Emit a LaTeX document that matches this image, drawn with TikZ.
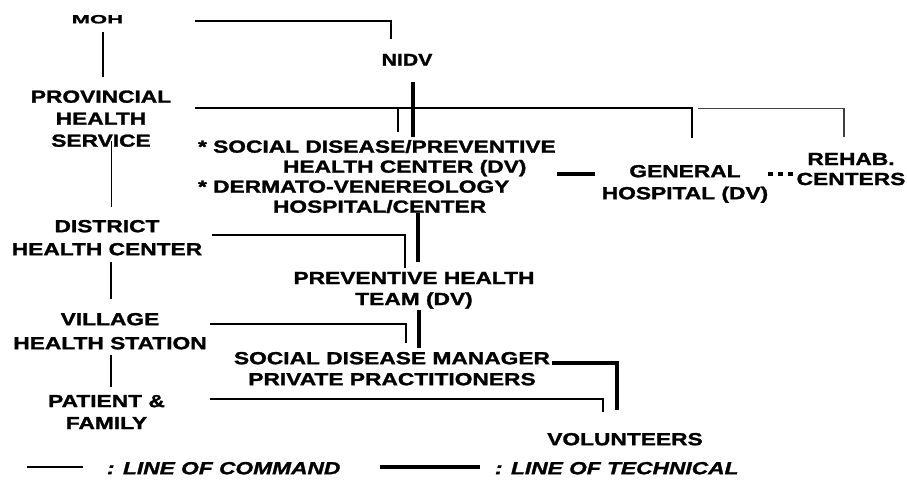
\documentclass[tikz,border=0pt]{standalone}
\usepackage{fontspec}
\setmainfont{Liberation Sans}[FakeStretch=1.3,FakeBold=1.5]
\newfontfamily\mohfont{Liberation Sans}[FakeStretch=1.83,FakeBold=1.5]
\newfontfamily\nidvfont{Liberation Sans}[FakeStretch=1.25,FakeBold=1.5]
\begin{document}
\begin{tikzpicture}[x=1pt,y=-1pt,
  lbl/.style={inner sep=0pt,outer sep=0pt,align=center,anchor=north,
    font=\bfseries\fontsize{17.5}{#1}\selectfont},
  lbl/.default=21.5,
  leg/.style={inner sep=0pt,outer sep=0pt,anchor=north west,
    font=\bfseries\itshape\fontsize{17.5}{21}\selectfont},
  cmd/.style={line width=1.2pt},
  tech/.style={line width=4pt},
  dots/.style={line width=4pt,dash pattern=on 5pt off 5pt}]
\useasboundingbox (0,0) rectangle (907,482);
% nodes
\node[lbl,font=\mohfont\bfseries\fontsize{12}{14}\selectfont] (moh) at (97.4,15) {MOH};
\node[lbl,font=\nidvfont\bfseries\fontsize{17}{19}\selectfont] (nidv) at (407,54) {NIDV};
\node[lbl=22] (prov) at (101,90.5) {PROVINCIAL\\HEALTH\\SERVICE};
\node[lbl=23] (dist) at (107,220) {DISTRICT\\HEALTH CENTER};
\node[lbl=24] (vill) at (110,313) {VILLAGE\\HEALTH STATION};
\node[lbl=22] (pat) at (106.5,395) {PATIENT \&\\FAMILY};
\node[lbl=20,align=left,anchor=north west] (sdc) at (198,140)
  {* SOCIAL DISEASE/PREVENTIVE\\\hspace*{85pt}HEALTH CENTER (DV)\\* DERMATO-VENEREOLOGY\\\hspace*{75pt}HOSPITAL/CENTER};
\node[lbl=22] (gh) at (685,165) {GENERAL\\HOSPITAL (DV)};
\node[lbl=20] (rehab) at (851,153) {REHAB.\\CENTERS};
\node[lbl=21] (pht) at (414,272) {PREVENTIVE HEALTH\\TEAM (DV)};
\node[lbl=21] (sdm) at (392,352) {SOCIAL DISEASE MANAGER\\PRIVATE PRACTITIONERS};
\node[lbl] (vol) at (625,433) {VOLUNTEERS};
\node[leg] (leg1) at (107,462) {: LINE OF COMMAND};
\node[leg] (leg2) at (495,462) {: LINE OF TECHNICAL};
% connector end points
\coordinate (mohR) at (195,21);   \coordinate (nidvL) at (391,39);
\coordinate (mohB) at (103,32);   \coordinate (provT) at (103,77);
\coordinate (provR) at (195,108); \coordinate (ghT) at (692,138);
\coordinate (rehabS) at (698,108.5); \coordinate (rehabT) at (844,137);
\coordinate (provJ) at (398,108); \coordinate (sdcTa) at (398,132);
\coordinate (nidvB) at (413,82);  \coordinate (sdcT) at (413,137);
\coordinate (provB) at (111.7,141); \coordinate (distT) at (111.7,207);
\coordinate (sdcR) at (557,174);  \coordinate (ghL) at (595,174);
\coordinate (ghR) at (768,174);   \coordinate (rehabL) at (793,174);
\coordinate (sdcB) at (418,213);  \coordinate (phtT) at (418,262);
\coordinate (distR) at (212,235); \coordinate (phtTL) at (405,268);
\coordinate (distB) at (111,262); \coordinate (villT) at (111,299);
\coordinate (villR) at (210,324); \coordinate (sdmTL) at (406,343);
\coordinate (phtB) at (419,310);  \coordinate (sdmT) at (419,348);
\coordinate (villB) at (111,355); \coordinate (patT) at (111,387);
\coordinate (patR) at (210,399);  \coordinate (volTL) at (603,412);
\coordinate (sdmR) at (552,363);  \coordinate (volT) at (617,410);
\coordinate (lgA) at (27,467);    \coordinate (lgB) at (83,467);
\coordinate (lgC) at (380,467);   \coordinate (lgD) at (480,467);
% line of command
\draw[cmd] (mohR) -| (nidvL);
\draw[cmd] (mohB) -- (provT);
\draw[cmd] (provR) -| (ghT);
\draw[cmd,black!75] (rehabS) -| (rehabT);
\draw[cmd] (provJ) -- (sdcTa);
\draw[cmd] (provB) -- (distT);
\draw[cmd] (distR) -| (phtTL);
\draw[cmd] (distB) -- (villT);
\draw[cmd] (villR) -| (sdmTL);
\draw[cmd] (villB) -- (patT);
\draw[cmd] (patR) -| (volTL);
\draw[cmd] (lgA) -- (lgB);
% line of technical
\draw[tech] (nidvB) -- (sdcT);
\draw[tech] (sdcR) -- (ghL);
\draw[dots] (ghR) -- (rehabL);
\draw[tech] (sdcB) -- (phtT);
\draw[tech] (phtB) -- (sdmT);
\draw[tech] (sdmR) -| (volT);
\draw[tech] (lgC) -- (lgD);
\end{tikzpicture}
\end{document}
